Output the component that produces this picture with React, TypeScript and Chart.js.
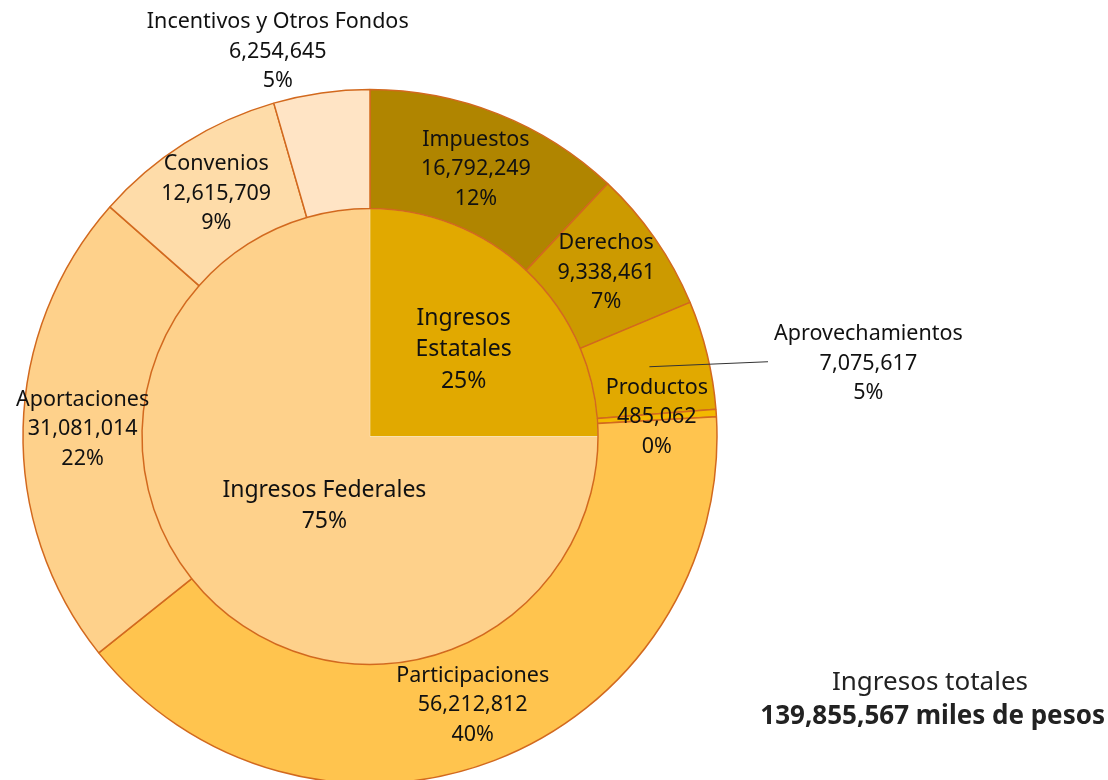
import React, { useEffect, useRef } from "react";
import { Chart, registerables } from "chart.js";

Chart.register(...registerables);

// ---- Data ----
const outerLabels = [
  "Impuestos",
  "Derechos",
  "Aprovechamientos",
  "Productos",
  "Participaciones",
  "Aportaciones",
  "Convenios",
  "Incentivos y Otros Fondos",
];
const outerValues = [16792249, 9338461, 7075617, 485062, 56212812, 31081014, 12615709, 6254645];
const outerPercents = ["12%", "7%", "5%", "0%", "40%", "22%", "9%", "5%"];

const innerLabels = [["Ingresos", "Estatales"], ["Ingresos Federales"]];
const innerValues = [25, 75];
const innerPercents = ["25%", "75%"];

const totalTitle = "Ingresos totales";
const totalText = "139,855,567 miles de pesos";

// ---- Styles ----
const outerColors = ["#B08500", "#CC9A00", "#E1A900", "#F3B900", "#FFC44E", "#FED18B", "#FEDCA9", "#FFE4C5"];
const innerColors = ["#E1A900", "#FED18B"];
const borderColor = "#D2691E";
const FONT = "'Noto Sans', sans-serif";

// label offsets relative to arc centroid (for labels drawn outside the slice)
const outerLabelOffsets: Record<number, { dx: number; dy: number; leader?: boolean }> = {
  2: { dx: 219, dy: -5, leader: true },
  7: { dx: -52, dy: -100 },
};
const innerLabelOffsets = [
  { dx: 13, dy: -6 },
  { dx: 35, dy: -11 },
];

const fmt = (v: number) => v.toLocaleString("en-US");

const labelPlugin = {
  id: "sunLabels",
  afterDraw(chart: any) {
    const ctx = chart.ctx as CanvasRenderingContext2D;
    ctx.save();
    ctx.fillStyle = "#111";
    ctx.textAlign = "center";
    ctx.textBaseline = "middle";

    // outer ring labels
    const outerMeta = chart.getDatasetMeta(0);
    outerMeta.data.forEach((arc: any, i: number) => {
      const p = arc.getProps(["x", "y", "startAngle", "endAngle", "innerRadius", "outerRadius"], true);
      const mid = (p.startAngle + p.endAngle) / 2;
      const r = (p.innerRadius + p.outerRadius) / 2;
      const cx = p.x + Math.cos(mid) * r;
      const cy = p.y + Math.sin(mid) * r;
      const off = outerLabelOffsets[i];
      const lx = cx + (off ? off.dx : 0);
      const ly = cy + (off ? off.dy : 0);
      const lines = [outerLabels[i], fmt(outerValues[i]), outerPercents[i]];
      ctx.font = `21.5px ${FONT}`;
      const lh = 29.5;
      if (off && off.leader) {
        const w = ctx.measureText(lines[0]).width;
        ctx.save();
        ctx.strokeStyle = "#333";
        ctx.lineWidth = 1;
        ctx.beginPath();
        ctx.moveTo(cx, cy - 2);
        ctx.lineTo(lx - w / 2 - 6, ly - 2);
        ctx.stroke();
        ctx.restore();
      }
      lines.forEach((t, k) => ctx.fillText(t, lx, ly + (k - 1) * lh));
    });

    // inner pie labels
    const innerMeta = chart.getDatasetMeta(1);
    innerMeta.data.forEach((arc: any, i: number) => {
      const p = arc.getProps(["x", "y", "startAngle", "endAngle", "innerRadius", "outerRadius"], true);
      const mid = (p.startAngle + p.endAngle) / 2;
      const r = p.outerRadius * 0.5;
      const lx = p.x + Math.cos(mid) * r + innerLabelOffsets[i].dx;
      const ly = p.y + Math.sin(mid) * r + innerLabelOffsets[i].dy;
      const lines = [...innerLabels[i], innerPercents[i]];
      ctx.font = `23px ${FONT}`;
      const lh = 31.5;
      const n = lines.length;
      lines.forEach((t, k) => ctx.fillText(t, lx, ly + (k - (n - 1) / 2) * lh));
    });

    // total
    ctx.fillStyle = "#222";
    ctx.font = `26px ${FONT}`;
    ctx.fillText(totalTitle, 930, 683);
    ctx.font = `bold 26px ${FONT}`;
    ctx.textAlign = "right";
    ctx.fillText(totalText, 1105, 717);
    ctx.restore();
  },
};

export default function App() {
  const canvasRef = useRef<HTMLCanvasElement | null>(null);

  useEffect(() => {
    if (!canvasRef.current) return;
    const chart = new Chart(canvasRef.current, {
      type: "doughnut",
      data: {
        labels: outerLabels,
        datasets: [
          {
            data: outerValues,
            backgroundColor: outerColors,
            borderColor: borderColor,
            borderWidth: 1.5,
            weight: 119,
            hoverOffset: 0,
          } as any,
          {
            data: innerValues,
            backgroundColor: innerColors,
            borderColor: "rgba(255,255,255,0.25)",
            borderWidth: 1,
            weight: 228,
            hoverOffset: 0,
          } as any,
        ],
      },
      options: {
        animation: false,
        responsive: true,
        maintainAspectRatio: false,
        cutout: 0,
        radius: 347,
        layout: { padding: { left: 0, right: 368, top: 93, bottom: 0 } },
        plugins: {
          legend: { display: false },
          tooltip: { enabled: false },
        },
        events: [],
      } as any,
      plugins: [labelPlugin],
    });
    return () => chart.destroy();
  }, []);

  return (
    <div style={{ position: "absolute", left: 0, top: 0, width: 1108, height: 780, background: "#fff" }}>
      <canvas ref={canvasRef} />
    </div>
  );
}
